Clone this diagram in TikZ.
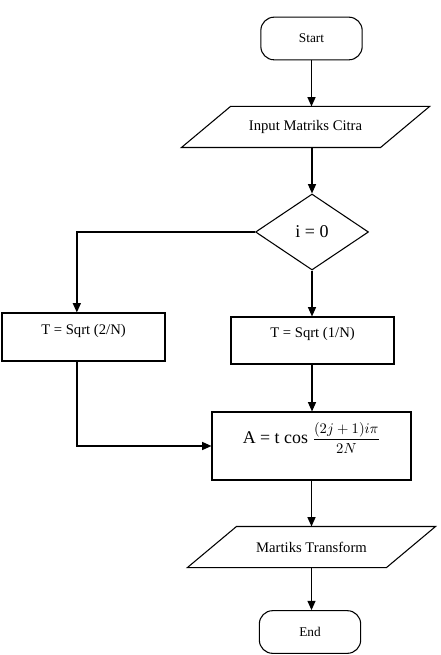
\documentclass[tikz,border=0pt]{standalone}
\usepackage{fontspec}
\setmainfont{Liberation Serif}
\usepackage{tikz}
\usetikzlibrary{shapes,arrows.meta,positioning}

% slanted outline round an input/output node
\newcommand{\slantbox}[1]{%
    \draw ([xshift=-18.4pt]#1.south west) -- ([xshift=18.4pt]#1.north west)
        -- ([xshift=18.4pt]#1.north east) -- ([xshift=-18.4pt]#1.south east) -- cycle;}

\begin{document}
\begin{tikzpicture}[
    x=0.75pt, y=-0.75pt,
    line width=0.8pt,
    term/.style={rectangle, draw, rounded corners=10pt, minimum width=76pt, minimum height=32pt, font=\fontsize{10}{12}\selectfont},
    io/.style={rectangle, minimum width=148.5pt, minimum height=30pt, inner sep=0pt, font=\fontsize{11}{13}\selectfont},
    decision/.style={diamond, draw, minimum width=84.75pt, minimum height=57pt, inner sep=0pt, font=\fontsize{13.5}{15}\selectfont},
    box/.style={rectangle, draw, inner ysep=0pt, font=\fontsize{11}{13}\selectfont},
    flow/.style={-{Triangle[length=7pt, width=6pt]}, line width=1pt}
]
    \useasboundingbox (0,0) rectangle (440,655);

    % Terminals and input/output
    \node[term] (start) at (311.5, 38.5) {Start};
    \node[io] (input) at (305.5, 127) {Input Matriks Citra};
    \slantbox{input}
    \node[decision] (dec) at (312, 232) {i = 0};

    % Process boxes
    \node[box, minimum width=122.25pt, minimum height=36pt, text height=16.1pt, text depth=19.9pt] (sqrttwo) at (83.5, 337) {T = Sqrt (2/N)};
    \node[box, minimum width=122.25pt, minimum height=35.25pt, text height=15.5pt, text depth=19.75pt] (sqrtone) at (312.5, 340.5) {T = Sqrt (1/N)};
    \node[box, minimum width=149.25pt, minimum height=51pt, text height=23.25pt, text depth=27.75pt, font=\fontsize{13.4}{15}\selectfont] (calc) at (311.5, 446)
        {A = t cos {\fontsize{10.5}{12}\selectfont$\displaystyle\frac{(2j+1)i\pi}{2N}$}};

    \node[io] (output) at (311.5, 547) {Martiks Transform};
    \slantbox{output}
    \node[term] (end) at (310, 632) {End};

    % Connectors
    \draw[flow] (start.south) -- (start.south |- input.north);
    \draw[flow] (dec |- input.south) -- (dec.north);
    \draw[flow] (dec.west) -| ([xshift=-5pt]sqrttwo.north);
    \draw[flow] (dec.south) -- (dec.south |- sqrtone.north);
    \draw[flow] (dec.south |- sqrtone.south) -- (dec.south |- calc.north);
    \draw[flow] ([xshift=-5pt]sqrttwo.south) |- (calc.west);
    \draw[flow] (calc.south) -- (calc.south |- output.north);
    \draw[flow] (calc.south |- output.south) -- (calc.south |- end.north);
\end{tikzpicture}
\end{document}
